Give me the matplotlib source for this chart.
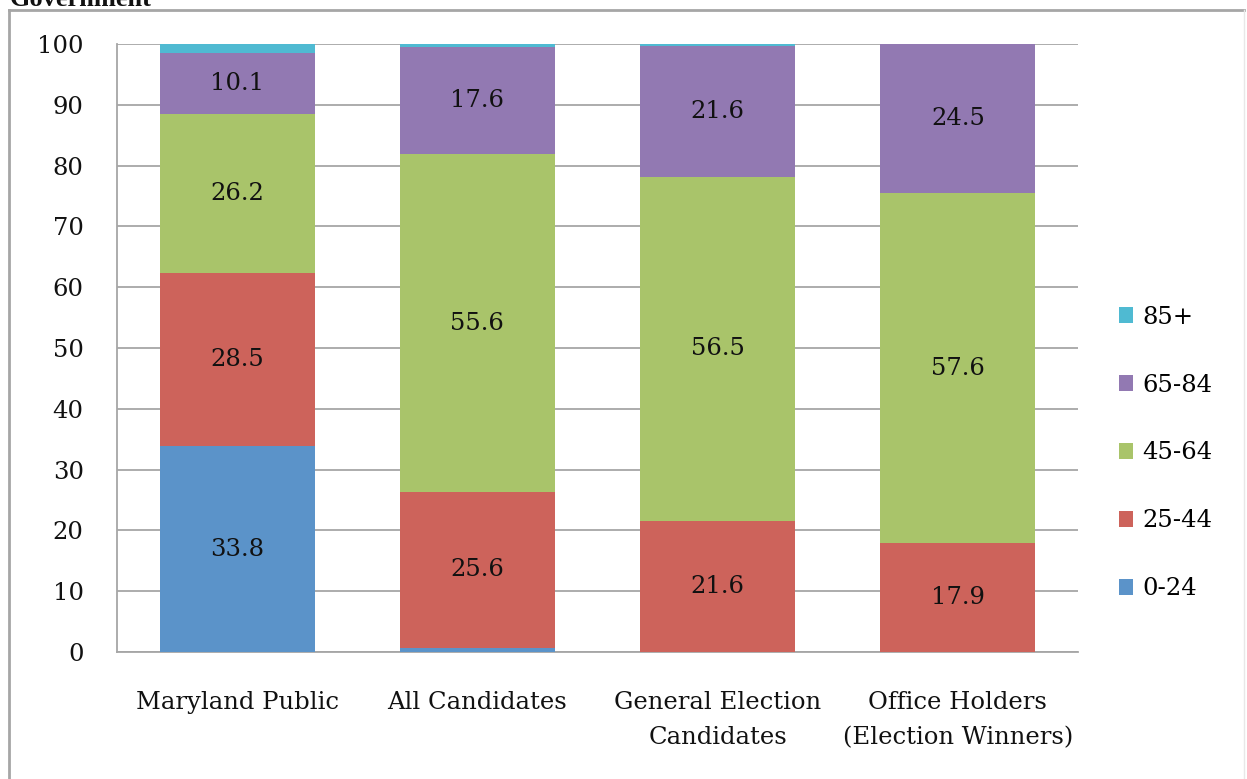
import matplotlib.pyplot as plt
import numpy as np
from matplotlib.lines import Line2D

# Age distribution (%) by group
categories = ["Maryland Public", "All Candidates", "General Election\nCandidates",
              "Office Holders\n(Election Winners)"]
age_groups = ["0-24", "25-44", "45-64", "65-84", "85+"]
age_0_24 = [33.8, 0.7, 0.0, 0.0]
age_25_44 = [28.5, 25.6, 21.6, 17.9]
age_45_64 = [26.2, 55.6, 56.5, 57.6]
age_65_84 = [10.1, 17.6, 21.6, 24.5]
age_85_plus = [1.4, 0.5, 0.3, 0.0]
series = [age_0_24, age_25_44, age_45_64, age_65_84, age_85_plus]
colors = ["#5B93C9", "#CD635B", "#A9C46A", "#9279B2", "#4FBAD2"]

plt.rcParams["font.family"] = "DejaVu Serif"
fs = 17.5

fig = plt.figure(figsize=(12.47, 7.79), dpi=100)
ax = fig.add_axes([117 / 1247, 1 - 652 / 779, (1078 - 117) / 1247, (652 - 44) / 779])

x = np.arange(len(categories))
bottom = np.zeros(len(categories))
handles = []
for vals, col, name in zip(series, colors, age_groups):
    vals = np.array(vals)
    b = ax.bar(x, vals, width=0.645, bottom=bottom, color=col, label=name, zorder=3)
    handles.append(b)
    for xi, v, b0 in zip(x, vals, bottom):
        if v >= 5:
            ax.text(xi, b0 + v / 2, f"{v:.1f}", ha="center", va="center",
                    fontsize=fs, color="#111111", zorder=4)
    bottom += vals

ax.set_xlim(-0.5, 3.5)
ax.set_ylim(0, 100)
ax.set_yticks(range(0, 101, 10))
ax.set_xticks(x)
ax.set_xticklabels(categories, fontsize=fs, linespacing=1.7)
ax.tick_params(axis="both", length=0, labelsize=fs, colors="#111111")
ax.tick_params(axis="y", pad=24)
ax.tick_params(axis="x", pad=28)
ax.grid(axis="y", color="#A6A6A6", linewidth=1.3, zorder=0)
for s in ["top", "right"]:
    ax.spines[s].set_visible(False)
for s in ["left", "bottom"]:
    ax.spines[s].set_color("#A6A6A6")
    ax.spines[s].set_linewidth(1.3)

leg = fig.legend(handles[::-1], age_groups[::-1], loc="center left",
                 bbox_to_anchor=(1097 / 1247, 1 - 453 / 779), frameon=False,
                 fontsize=fs, handlelength=0.6, handleheight=0.6,
                 handletextpad=0.35, labelspacing=1.85)

# outer chart frame
frame_kw = dict(color="#A6A6A6", linewidth=2, transform=fig.transFigure)
fig.add_artist(Line2D([9 / 1247, 9 / 1247], [0, 1 - 10 / 779], **frame_kw))
fig.add_artist(Line2D([9 / 1247, 1244 / 1247], [1 - 10 / 779, 1 - 10 / 779], **frame_kw))
fig.add_artist(Line2D([1244 / 1247, 1244 / 1247], [0, 1 - 10 / 779],
                      color="#E8E8E8", linewidth=1, transform=fig.transFigure))

# cropped title from the page above
fig.text(10 / 1247, 1 - 6 / 779, "Government", fontsize=19, fontweight="bold",
         family="Liberation Serif", va="baseline", ha="left", color="#111111")

fig.savefig("out.png", dpi=100)
